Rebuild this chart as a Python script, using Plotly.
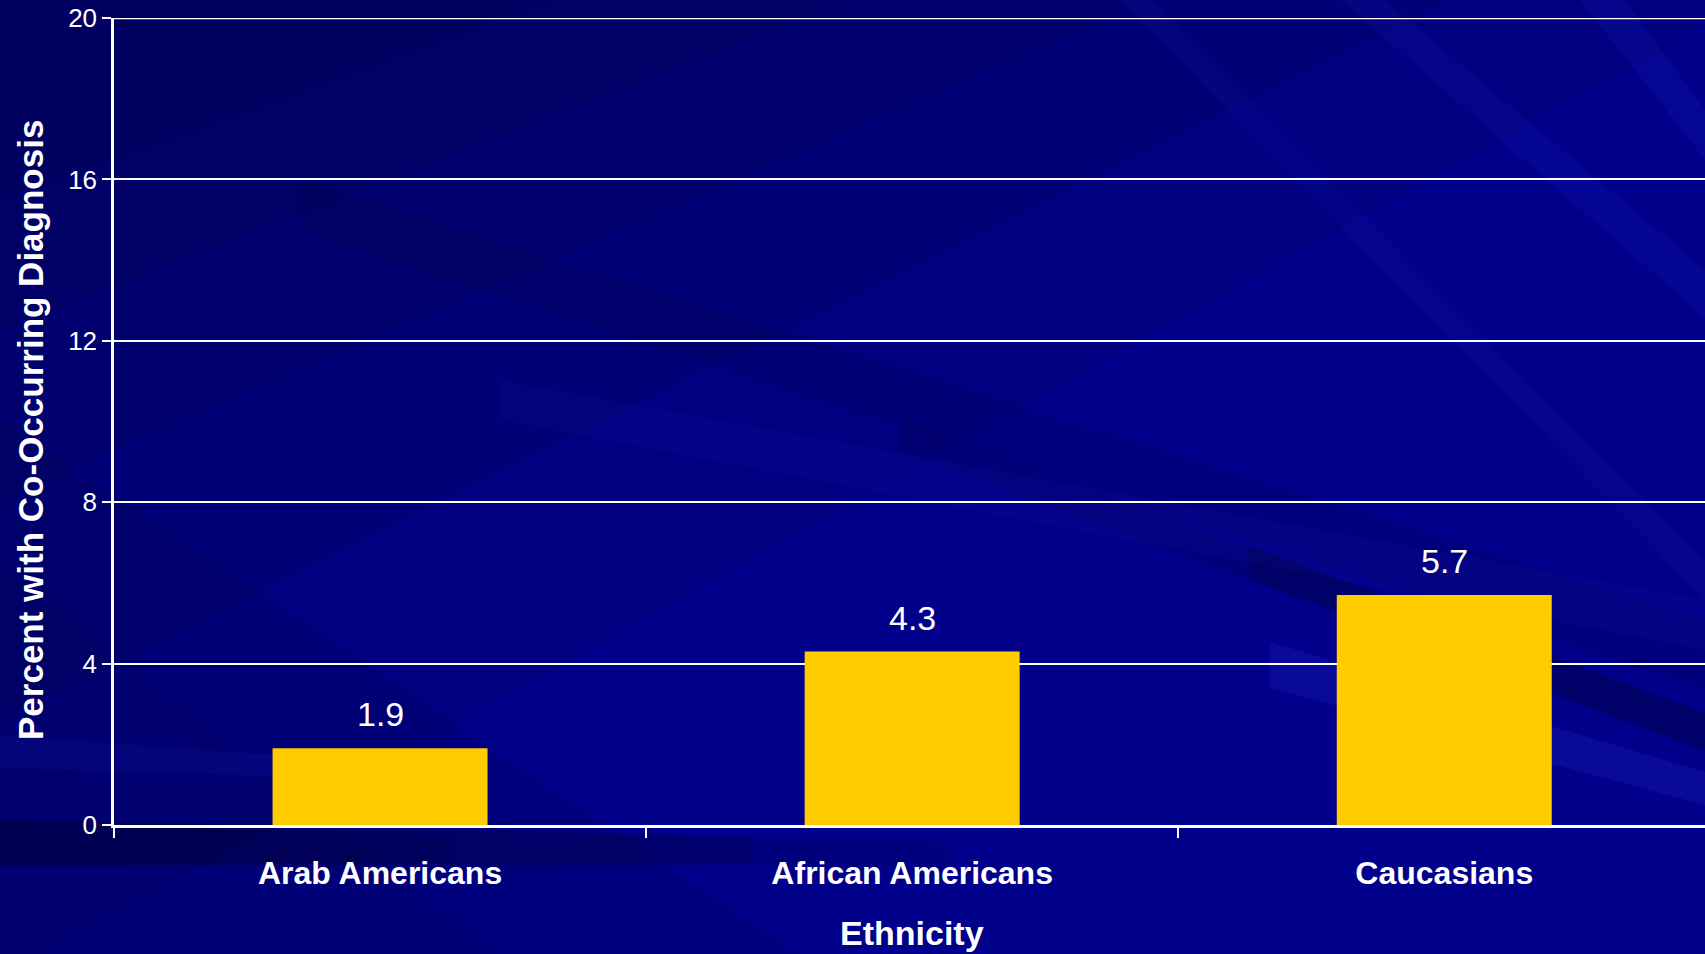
import plotly.graph_objects as go

# Data
categories = ["Arab Americans", "African Americans", "Caucasians"]
percent_values = [1.9, 4.3, 5.7]
y_tick_values = [0, 4, 8, 12, 16, 20]

W, H = 1705, 954
L, R, T, B = 114, 0, 18, 129
PLOT_W = W - L - R
PLOT_H = H - T - B
FONT = "Liberation Sans, Arial"


def px_path(points):
    """Closed SVG path from pixel coordinates (origin top-left) in paper units."""
    parts = []
    for i, (px, py) in enumerate(points):
        x = (px - L) / PLOT_W
        y = (H - B - py) / PLOT_H
        parts.append(("M" if i == 0 else "L") + f"{x:.5f},{y:.5f}")
    return " ".join(parts) + " Z"


DARK = "rgba(0,0,25,{a})"
LIGHT = "rgba(70,70,255,{a})"

# Streaked navy backdrop: layered translucent polygons
backdrop = [
    # darker top-left corner, built up in steps for a soft gradient
    ([(0, 0), (1750, 0), (0, 980)], DARK.format(a=0.08)),
    ([(0, 0), (1450, 0), (0, 720)], DARK.format(a=0.09)),
    ([(0, 0), (1150, 0), (0, 500)], DARK.format(a=0.09)),
    ([(0, 0), (850, 0), (0, 330)], DARK.format(a=0.09)),
    ([(0, 0), (550, 0), (0, 200)], DARK.format(a=0.08)),
    # mild shading along the lower left
    ([(0, 420), (800, 954), (0, 954)], DARK.format(a=0.10)),
    ([(0, 560), (500, 954), (0, 954)], DARK.format(a=0.06)),
    # steep light streaks in the upper right
    ([(1340, 0), (1385, 0), (1705, 270), (1705, 318)], LIGHT.format(a=0.08)),
    ([(1580, 0), (1625, 0), (1705, 110), (1705, 160)], LIGHT.format(a=0.09)),
    ([(1120, 0), (1150, 0), (1705, 560), (1705, 600)], LIGHT.format(a=0.05)),
    # long dark and light streaks sweeping to the lower right
    ([(300, 180), (1705, 620), (1705, 690), (300, 230)], DARK.format(a=0.10)),
    ([(900, 420), (1705, 712), (1705, 752), (900, 450)], DARK.format(a=0.14)),
    ([(1250, 545), (1705, 714), (1705, 750), (1250, 578)], DARK.format(a=0.18)),
    ([(500, 380), (1705, 600), (1705, 650), (500, 420)], LIGHT.format(a=0.04)),
    ([(1270, 642), (1705, 772), (1705, 805), (1270, 688)], LIGHT.format(a=0.14)),
    # faint light band on the left, above the baseline
    ([(0, 735), (480, 770), (480, 782), (0, 768)], LIGHT.format(a=0.08)),
    # darker band just below the baseline, fading to the right
    ([(0, 818), (950, 842), (950, 866), (0, 866)], DARK.format(a=0.12)),
    ([(0, 820), (750, 838), (750, 864), (0, 866)], DARK.format(a=0.12)),
    ([(0, 822), (450, 836), (450, 862), (0, 866)], DARK.format(a=0.12)),
]

shapes = [
    dict(type="path", xref="paper", yref="paper", path=px_path(pts),
         fillcolor=col, line=dict(width=0), layer="below")
    for pts, col in backdrop
]

# gridline along the top of the value range
shapes.append(dict(type="line", xref="paper", yref="y", x0=0, x1=1,
                   y0=y_tick_values[-1], y1=y_tick_values[-1],
                   line=dict(color="white", width=2.5), layer="above"))

fig = go.Figure(
    go.Bar(
        x=categories,
        y=percent_values,
        marker=dict(color="#FFCC00", line=dict(width=0)),
        width=0.404,
        hoverinfo="skip",
    )
)

# Value labels above each bar
annotations = [
    dict(x=c, y=v, xref="x", yref="y", text=f"{v:.1f}", showarrow=False,
         yanchor="middle", yshift=34,
         font=dict(family=FONT, size=34, color="white"))
    for c, v in zip(categories, percent_values)
]

# Axis titles
annotations.append(dict(
    x=(30 - L) / PLOT_W, y=(H - B - 430) / PLOT_H, xref="paper", yref="paper",
    text="<b>Percent with Co-Occurring Diagnosis</b>", textangle=-90,
    showarrow=False, xanchor="center", yanchor="middle",
    font=dict(family=FONT, size=35, color="white")))
annotations.append(dict(
    x=(912 - L) / PLOT_W, y=(H - B - 933) / PLOT_H, xref="paper", yref="paper",
    text="<b>Ethnicity</b>", showarrow=False, xanchor="center", yanchor="middle",
    font=dict(family=FONT, size=34, color="white")))

fig.update_layout(
    width=W, height=H,
    margin=dict(l=L, r=R, t=T, b=B, pad=0),
    paper_bgcolor="#00008a",
    plot_bgcolor="rgba(0,0,0,0)",
    showlegend=False,
    shapes=shapes,
    annotations=annotations,
    xaxis=dict(
        range=[-0.5, 2.49],
        showgrid=False, zeroline=False,
        showline=True, linecolor="white", linewidth=2.5,
        ticks="outside", tickson="boundaries", ticklen=10, tickwidth=2,
        tickcolor="white", ticklabelstandoff=18,
        tickfont=dict(family=FONT, size=32, color="white", weight="bold"),
        fixedrange=True,
    ),
    yaxis=dict(
        range=[0, 20],
        tickvals=y_tick_values,
        showgrid=True, gridcolor="white", gridwidth=1.5,
        zeroline=False,
        showline=True, linecolor="white", linewidth=2.5,
        ticks="outside", ticklen=9, tickwidth=2, tickcolor="white",
        tickfont=dict(family=FONT, size=26, color="white"),
        fixedrange=True,
    ),
)

fig.write_html("out.html", config={"displayModeBar": False})
